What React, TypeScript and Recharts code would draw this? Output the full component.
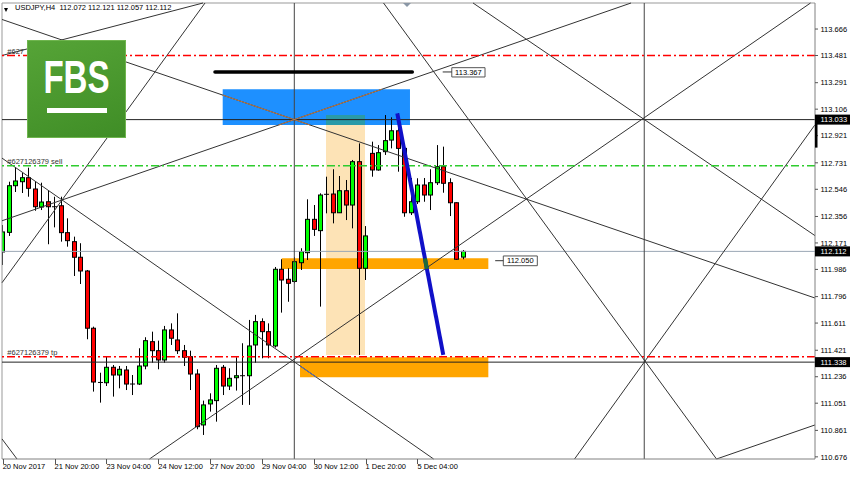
import React from 'react'
import { Bar, ComposedChart, ReferenceArea, ReferenceLine, XAxis, YAxis } from 'recharts'

const opens = [
  112.108, 112.245, 112.571, 112.599, 112.627, 112.548, 112.422, 112.459, 112.424, 112.431,
  112.243, 112.180, 112.071, 111.975, 111.575, 111.196, 111.194, 111.302, 111.248, 111.283,
  111.185, 111.185, 111.311, 111.481, 111.418, 111.353, 111.563, 111.493, 111.418, 111.376,
  111.255, 110.899, 111.046, 111.069, 111.302, 111.171, 111.229, 111.243, 111.243, 111.458,
  111.621, 111.551, 111.451, 111.987, 111.917, 111.902, 112.033, 112.103, 112.336, 112.257,
  112.511, 112.513, 112.382, 112.536, 112.436, 112.739, 111.994, 112.797, 112.681, 112.809,
  112.890, 112.955, 112.832, 112.382, 112.459, 112.576, 112.506, 112.592, 112.704, 112.592,
  112.452, 112.072,
]
const highs = [
  112.296, 112.599, 112.695, 112.660, 112.697, 112.599, 112.592, 112.541, 112.494, 112.494,
  112.343, 112.215, 112.169, 111.982, 111.586, 111.264, 111.376, 111.318, 111.311, 111.311,
  111.248, 111.435, 111.512, 111.551, 111.488, 111.591, 111.609, 111.679, 111.458, 111.418,
  111.288, 111.069, 111.120, 111.318, 111.318, 111.295, 111.372, 111.470, 111.633, 111.668,
  111.644, 111.609, 112.003, 112.057, 111.994, 112.071, 112.134, 112.476, 112.436, 112.518,
  112.634, 112.686, 112.639, 112.611, 112.751, 112.867, 112.289, 112.879, 112.855, 113.065,
  113.049, 113.077, 112.834, 112.625, 112.623, 112.625, 112.686, 112.855, 112.844, 112.623,
  112.455, 112.121,
]
const lows = [
  112.017, 112.220, 112.527, 112.520, 112.494, 112.396, 112.401, 112.162, 112.280, 112.180,
  112.145, 111.940, 111.884, 111.498, 111.132, 111.055, 111.171, 111.097, 111.155, 111.143,
  111.108, 111.178, 111.288, 111.334, 111.288, 111.334, 111.458, 111.395, 111.311, 111.143,
  110.869, 110.829, 110.992, 110.922, 111.108, 111.143, 111.139, 111.039, 111.039, 111.334,
  111.365, 111.365, 111.440, 111.684, 111.760, 111.889, 111.982, 112.052, 112.220, 111.726,
  112.378, 112.308, 112.380, 112.331, 112.273, 111.388, 111.912, 112.634, 112.676, 112.786,
  112.832, 112.669, 112.354, 112.366, 112.443, 112.459, 112.401, 112.576, 112.522, 112.359,
  112.052, 112.057,
]
const closes = [
  112.248, 112.571, 112.604, 112.627, 112.553, 112.424, 112.457, 112.424, 112.424, 112.243,
  112.187, 112.071, 111.975, 111.575, 111.199, 111.196, 111.302, 111.248, 111.288, 111.185,
  111.185, 111.311, 111.488, 111.418, 111.353, 111.563, 111.505, 111.418, 111.372, 111.255,
  110.887, 111.039, 111.074, 111.295, 111.171, 111.225, 111.243, 111.243, 111.451, 111.621,
  111.551, 111.458, 111.987, 111.912, 111.889, 112.040, 112.110, 112.336, 112.266, 112.506,
  112.511, 112.382, 112.536, 112.436, 112.739, 111.994, 112.220, 112.681, 112.802, 112.886,
  112.955, 112.832, 112.382, 112.459, 112.576, 112.506, 112.592, 112.704, 112.588, 112.452,
  112.057, 112.112,
]

const dateTicks = [0, 8, 16, 24, 32, 40, 48, 56, 64]
const dateLabels = [
  '20 Nov 2017', '21 Nov 20:00', '23 Nov 04:00', '24 Nov 12:00', '27 Nov 20:00',
  '29 Nov 04:00', '30 Nov 12:00', '1 Dec 20:00', '5 Dec 04:00',
]
const priceTicks = [
  113.666, 113.481, 113.291, 113.106, 112.921, 112.731, 112.546, 112.356, 112.171,
  111.986, 111.796, 111.611, 111.421, 111.236, 111.051, 110.861, 110.676,
]
const markedPrices = [113.033, 112.112, 111.338]

// grid of trend lines: [bar, price, bar, price]
const trendLines = [
  [-0.108, 113.733, 125.35, 111.786],
  [-0.108, 113.481, 30.91, 113.848],
  [-0.108, 112.326, 96.96, 113.848],
  [72.58, 113.848, 125.35, 112.222],
  [22.65, 110.661, 124.66, 113.848],
  [58.77, 113.848, 110.15, 110.661],
  [88.24, 110.661, 125.35, 112.997],
  [110.15, 110.661, 125.35, 110.899],
  [-0.108, 112.764, 66.5, 110.661],
  [-0.108, 111.893, 31.22, 113.848],
  [-0.108, 110.801, 2.21, 110.661],
]
// pieces of lines that show in other colours where they cross a box
const tintedPieces = [
  { seg: [33.95, 113.2045, 47.42, 112.9954], color: '#c07a44' },
  { seg: [42.56, 112.995, 58.5, 113.245], color: '#c07a44' },
  { seg: [45.88, 111.312, 48.415, 111.232], color: '#4f6fc8' },
]

const xDomain = [-0.108, 125.35]
const yDomain = [110.661, 113.848]

const candles = opens.map((o, i) => ({ i, open: o, high: highs[i], low: lows[i], close: closes[i] }))

const FONT = '"Liberation Sans", Arial, sans-serif'

function Candle(props: any) {
  const { x, y, width, height, payload } = props
  const { open, high, low, close } = payload
  const top = Math.min(y, y + height)
  const h = Math.abs(height)
  const c = Math.round(x + width / 2 - 0.5)
  const per = h / (high - low)
  const yO = top + (high - open) * per
  const yC = top + (high - close) * per
  const wick = <line x1={c + 0.5} x2={c + 0.5} y1={top} y2={top + h} stroke="#000" strokeWidth={1} />
  if (open === close) {
    return (
      <g>
        {wick}
        <line x1={c - 2} x2={c + 3} y1={yO} y2={yO} stroke="#000" strokeWidth={1} />
      </g>
    )
  }
  const up = close > open
  const bTop = Math.min(yO, yC)
  const bH = Math.max(Math.abs(yO - yC), 1)
  return (
    <g>
      {wick}
      <rect x={c - 1.5} y={bTop} width={4} height={bH} fill={up ? '#00ff00' : '#ff0000'} stroke="#000" strokeWidth={1} />
    </g>
  )
}

function DateTick(props: any) {
  const { x, y, payload } = props
  const k = dateTicks.indexOf(payload.value)
  return (
    <g>
      <line x1={Math.round(x) + 0.5} x2={Math.round(x) + 0.5} y1={y} y2={y + 5} stroke="#555" />
      <text x={x} y={y + 10} fontSize={7.5} fontFamily={FONT} fill="#000" textAnchor="start">
        {dateLabels[k]}
      </text>
    </g>
  )
}

function PriceTick(props: any) {
  const { x, y, payload } = props
  const v = payload.value as number
  if (markedPrices.includes(v)) {
    return (
      <g>
        <rect x={x} y={y - 5} width={35} height={10} fill="#000" />
        {v === markedPrices[0] && <rect x={x} y={y + 4} width={2.5} height={24} fill="#000" />}
        <text x={x + 5.5} y={y + 2.7} fontSize={7.5} fontFamily={FONT} fill="#fff">{v.toFixed(3)}</text>
      </g>
    )
  }
  return (
    <g>
      <line x1={x} x2={x + 3} y1={y} y2={y} stroke="#555" />
      <text x={x + 5.5} y={y + 2.7} fontSize={7.5} fontFamily={FONT} fill="#000">{v.toFixed(3)}</text>
    </g>
  )
}

function LineTag(props: any) {
  const { viewBox, text } = props
  return (
    <text x={viewBox.x + 5.3} y={viewBox.y - 1.5} fontSize={7.5} fontFamily={FONT} fill="#333">
      {text}
    </text>
  )
}

export default function App() {
  return (
    <div style={{ position: 'absolute', left: 0, top: 0, width: 850, height: 480, background: '#fff' }}>
      <ComposedChart width={850} height={480} data={candles} margin={{ top: 3, right: 0, bottom: 0, left: 2 }}>
        <XAxis
          dataKey="i"
          type="number"
          domain={xDomain}
          allowDataOverflow
          ticks={dateTicks}
          interval={0}
          tickSize={0}
          tickMargin={0}
          height={21}
          stroke="#808080"
          tick={(p: any) => <DateTick {...p} />}
        />
        <YAxis
          orientation="right"
          type="number"
          domain={yDomain}
          allowDataOverflow
          ticks={[...priceTicks, ...markedPrices]}
          interval={0}
          tickSize={0}
          tickMargin={0}
          width={35}
          stroke="#808080"
          tick={(p: any) => <PriceTick {...p} />}
        />

        <ReferenceArea x1={49.89} x2={55.91} y1={111.388} y2={113.065} fill="#fde3b6" fillOpacity={1} ifOverflow="visible" />
        <ReferenceArea x1={33.95} x2={62.85} y1={112.995} y2={113.245} fill="#1e90ff" fillOpacity={1} ifOverflow="visible" />
        <ReferenceArea x1={49.89} x2={55.91} y1={112.995} y2={113.065} fill="#2a9aa8" fillOpacity={1} ifOverflow="visible" />
        <ReferenceArea x1={43.06} x2={74.94} y1={111.989} y2={112.064} fill="#ffa500" fillOpacity={1} ifOverflow="visible" />
        <ReferenceArea x1={45.88} x2={74.94} y1={111.232} y2={111.372} fill="#ffa500" fillOpacity={1} ifOverflow="visible" />

        <ReferenceLine y={yDomain[1]} stroke="#999" ifOverflow="visible" />
        <ReferenceLine x={xDomain[0]} stroke="#999" ifOverflow="visible" />
        <ReferenceLine y={112.112} stroke="#9aa7b4" ifOverflow="visible" />
        <ReferenceLine x={45} stroke="#444" ifOverflow="visible" />
        <ReferenceLine x={99} stroke="#444" ifOverflow="visible" />
        <ReferenceLine y={113.033} stroke="#222" ifOverflow="visible" />
        <ReferenceLine y={111.338} stroke="#222" ifOverflow="visible" />

        {trendLines.map((t, k) => (
          <ReferenceLine
            key={`t${k}`}
            segment={[{ x: t[0], y: t[1] }, { x: t[2], y: t[3] }]}
            stroke="#333"
            strokeWidth={1}
            ifOverflow="visible"
          />
        ))}
        {tintedPieces.map((t, k) => (
          <ReferenceLine
            key={`p${k}`}
            segment={[{ x: t.seg[0], y: t.seg[1] }, { x: t.seg[2], y: t.seg[3] }]}
            stroke={t.color}
            strokeWidth={1}
            ifOverflow="visible"
          />
        ))}

        <ReferenceLine y={113.481} stroke="#ff0000" strokeWidth={1.6} strokeDasharray="8 3 2 3" ifOverflow="visible"
          label={<LineTag text="#627" />} />
        <ReferenceLine y={112.711} stroke="#2ecc2e" strokeWidth={1.4} strokeDasharray="8 3 2 3" ifOverflow="visible"
          label={<LineTag text="#627126379 sell" />} />
        <ReferenceLine y={111.376} stroke="#ff0000" strokeWidth={1.6} strokeDasharray="8 3 2 3" ifOverflow="visible"
          label={<LineTag text="#627126379 tp" />} />

        <ReferenceLine segment={[{ x: 32.76, y: 113.366 }, { x: 63.21, y: 113.366 }]} stroke="#000" strokeWidth={3.5}
          strokeLinecap="round" ifOverflow="visible" />
        <ReferenceLine segment={[{ x: 60.89, y: 113.077 }, { x: 67.99, y: 111.388 }]} stroke="#1010c8" strokeWidth={4}
          ifOverflow="visible" />
        <ReferenceLine segment={[{ x: 65.15, y: 112.064 }, { x: 65.46, y: 111.989 }]} stroke="#1f6b3a" strokeWidth={4}
          ifOverflow="visible" />

        <Bar dataKey={(d: any) => [d.low, d.high]} barSize={5} isAnimationActive={false} shape={Candle} />

        <ReferenceLine segment={[{ x: 67.9, y: 113.366 }, { x: 69.3, y: 113.366 }]} stroke="#333" ifOverflow="visible" />
        <ReferenceArea x1={69.3} x2={74.43} y1={113.331} y2={113.396} fill="#fff" fillOpacity={1} stroke="#555"
          ifOverflow="visible" label={{ value: '113.367', position: 'center', fontSize: 7.5, fill: '#000', fontFamily: FONT }} />
        <ReferenceLine segment={[{ x: 76.0, y: 112.047 }, { x: 77.25, y: 112.047 }]} stroke="#333" ifOverflow="visible" />
        <ReferenceArea x1={77.25} x2={82.5} y1={112.012} y2={112.08} fill="#fff" fillOpacity={1} stroke="#555"
          ifOverflow="visible" label={{ value: '112.050', position: 'center', fontSize: 7.5, fill: '#000', fontFamily: FONT }} />
      </ComposedChart>

      <div style={{ position: 'absolute', left: 4, top: 8, width: 0, height: 0, borderLeft: '2.5px solid transparent',
        borderRight: '2.5px solid transparent', borderTop: '4px solid #000' }} />
      <div style={{ position: 'absolute', left: 15, top: 3, fontSize: 7.5, lineHeight: '10px', fontFamily: FONT, color: '#000', whiteSpace: 'pre' }}>
        USDJPY,H4  112.072 112.121 112.057 112.112
      </div>
      <div style={{ position: 'absolute', left: 403, top: 3, width: 0, height: 0, borderLeft: '4px solid transparent',
        borderRight: '4px solid transparent', borderTop: '4px solid #8a97a6' }} />

      <div style={{ position: 'absolute', left: 27, top: 40, width: 99, height: 98,
        background: 'linear-gradient(160deg, #56a437 0%, #3f8d26 100%)', boxShadow: 'inset 0 0 0 1px #6fb54e' }}>
        <div style={{ position: 'absolute', left: 0, top: 14, width: 99, textAlign: 'center', color: '#fff',
          fontFamily: FONT, fontWeight: 'bold', fontSize: 46, lineHeight: '46px', transform: 'scaleX(0.72)' }}>
          FBS
        </div>
        <div style={{ position: 'absolute', left: 20, top: 68, width: 60, height: 5, background: '#fff' }} />
      </div>
    </div>
  )
}
